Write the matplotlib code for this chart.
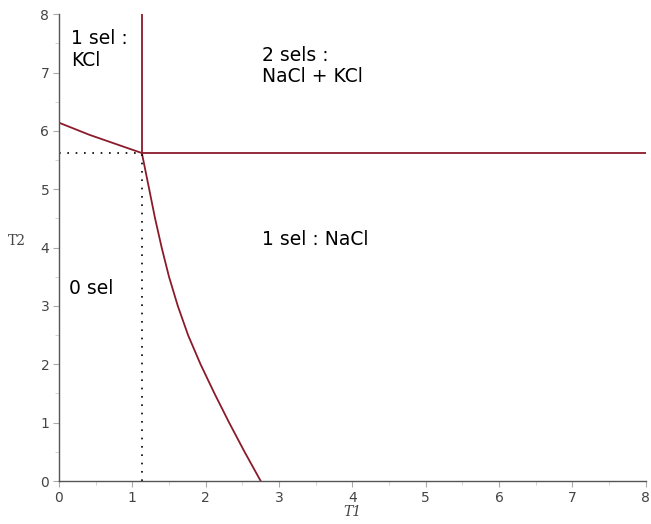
import matplotlib
matplotlib.use("Agg")
import matplotlib.pyplot as plt
from matplotlib.ticker import MultipleLocator

# triple point (both salts saturated)
x_triple = 1.13
y_triple = 5.62

# KCl saturation branch (left, upper)
kcl_x = [0.0, 0.42, 1.13]
kcl_y = [6.14, 5.93, 5.62]

# NaCl saturation branch (lower)
nacl_x = [1.13, 1.23, 1.31, 1.40, 1.50, 1.62, 1.76, 1.93, 2.12, 2.32, 2.53, 2.75]
nacl_y = [5.62, 5.0, 4.5, 4.0, 3.5, 3.0, 2.5, 2.0, 1.5, 1.0, 0.5, 0.0]

labels = ["1 sel :\nKCl", "2 sels :\nNaCl + KCl", "1 sel : NaCl", "0 sel"]
label_x = [0.16, 2.77, 2.77, 0.14]
label_y = [7.74, 7.46, 4.04, 3.2]
label_va = ["top", "top", "baseline", "baseline"]

ticks = list(range(0, 9))
curve_col = "#8b1a2b"

fig = plt.figure(figsize=(6.51, 5.24), dpi=100, facecolor="white")
ax = fig.add_axes([0.0906, 0.082, 0.9014, 0.891])

ax.plot(kcl_x, kcl_y, color=curve_col, lw=1.3)
ax.plot(nacl_x, nacl_y, color=curve_col, lw=1.3)
ax.plot([x_triple, x_triple], [y_triple, 8], color=curve_col, lw=1.3)
ax.plot([x_triple, 8], [y_triple, y_triple], color=curve_col, lw=1.3)
ax.plot([0, x_triple], [y_triple, y_triple], color="black", lw=1.2, ls=(0, (1, 4)))
ax.plot([x_triple, x_triple], [0, y_triple], color="black", lw=1.2, ls=(0, (1, 4)))

for t, x, y, va in zip(labels, label_x, label_y, label_va):
    ax.text(x, y, t, fontsize=13.5, ha="left", va=va, color="black",
            linespacing=1.15)

ax.set_xlim(0, 8)
ax.set_ylim(0, 8)
ax.set_xticks(ticks)
ax.set_yticks(ticks)
ax.xaxis.set_minor_locator(MultipleLocator(0.5))
ax.yaxis.set_minor_locator(MultipleLocator(0.5))
for s in ["top", "right"]:
    ax.spines[s].set_visible(False)
for s in ["left", "bottom"]:
    ax.spines[s].set_color("#555555")
    ax.spines[s].set_linewidth(1.0)
ax.tick_params(which="major", length=4, color="#aaaaaa", labelcolor="#444444",
               labelsize=10, pad=3)
ax.tick_params(which="minor", length=3, color="#cccccc")

ax.set_xlabel("T1", fontsize=10, family="DejaVu Serif", style="italic",
              color="#444444", labelpad=0)
ax.set_ylabel("T2", fontsize=10, family="DejaVu Serif", color="#444444",
              rotation=0, labelpad=8)
ax.yaxis.set_label_coords(-0.072, 0.5)

fig.savefig("out.png", dpi=100, facecolor="white")
